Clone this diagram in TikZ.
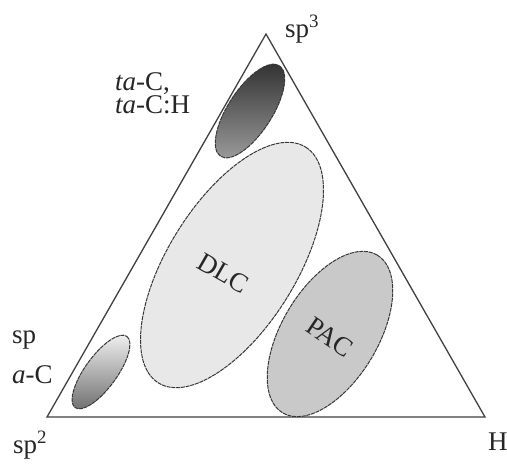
\documentclass[tikz,border=0pt]{standalone}
\usepackage{fontspec}
\setmainfont{Liberation Serif}
\usetikzlibrary{positioning}

\tikzset{
  blob/.style={draw=black!78,line width=1pt,dash pattern=on 4pt off .8pt},
  lbl/.style={anchor=base west,inner sep=0pt,text=black!85},
}

\begin{document}
\begin{tikzpicture}[x=1pt,y=-1pt,font=\fontsize{27}{23}\selectfont]
\useasboundingbox (0,0) rectangle (507,466);
\coordinate (top) at (266,34);
\coordinate (left) at (47,417);
\coordinate (right) at (485,417);
\draw[black!75,line width=1.3pt] (top) -- (left) -- (right) -- cycle;
% regions
\draw[blob,top color=black!82,bottom color=black!38,rotate around={57:(250,111)}] (250,111) ellipse (54 and 22);
\draw[blob,fill=black!9,rotate around={58:(232,265)}] (232,265) ellipse (139 and 64);
\draw[blob,fill=black!21,rotate around={59:(330,334)}] (330,334) ellipse (92 and 48);
\draw[blob,top color=black!4,bottom color=black!58,rotate around={54:(101,372)}] (101,372) ellipse (44 and 16);
% labels
\node[lbl] (sp3) at (285,37) {sp\textsuperscript{3}};
\node[lbl] (tac) at (115,90) {\textit{ta}-C,};
\node[lbl] (tach) at (115,113) {\textit{ta}-C:H};
\node[lbl] (sp) at (12,343) {sp};
\node[lbl] (ac) at (12,383) {\textit{a}-C};
\node[lbl] (sp2) at (13,453) {sp\textsuperscript{2}};
\node[lbl] (h) at (488,450) {H};
\node[text=black!85,rotate=-30] (dlc) at (223,273) {DLC};
\node[text=black!85,rotate=-34] (pac) at (330,337) {PAC};
\end{tikzpicture}
\end{document}
